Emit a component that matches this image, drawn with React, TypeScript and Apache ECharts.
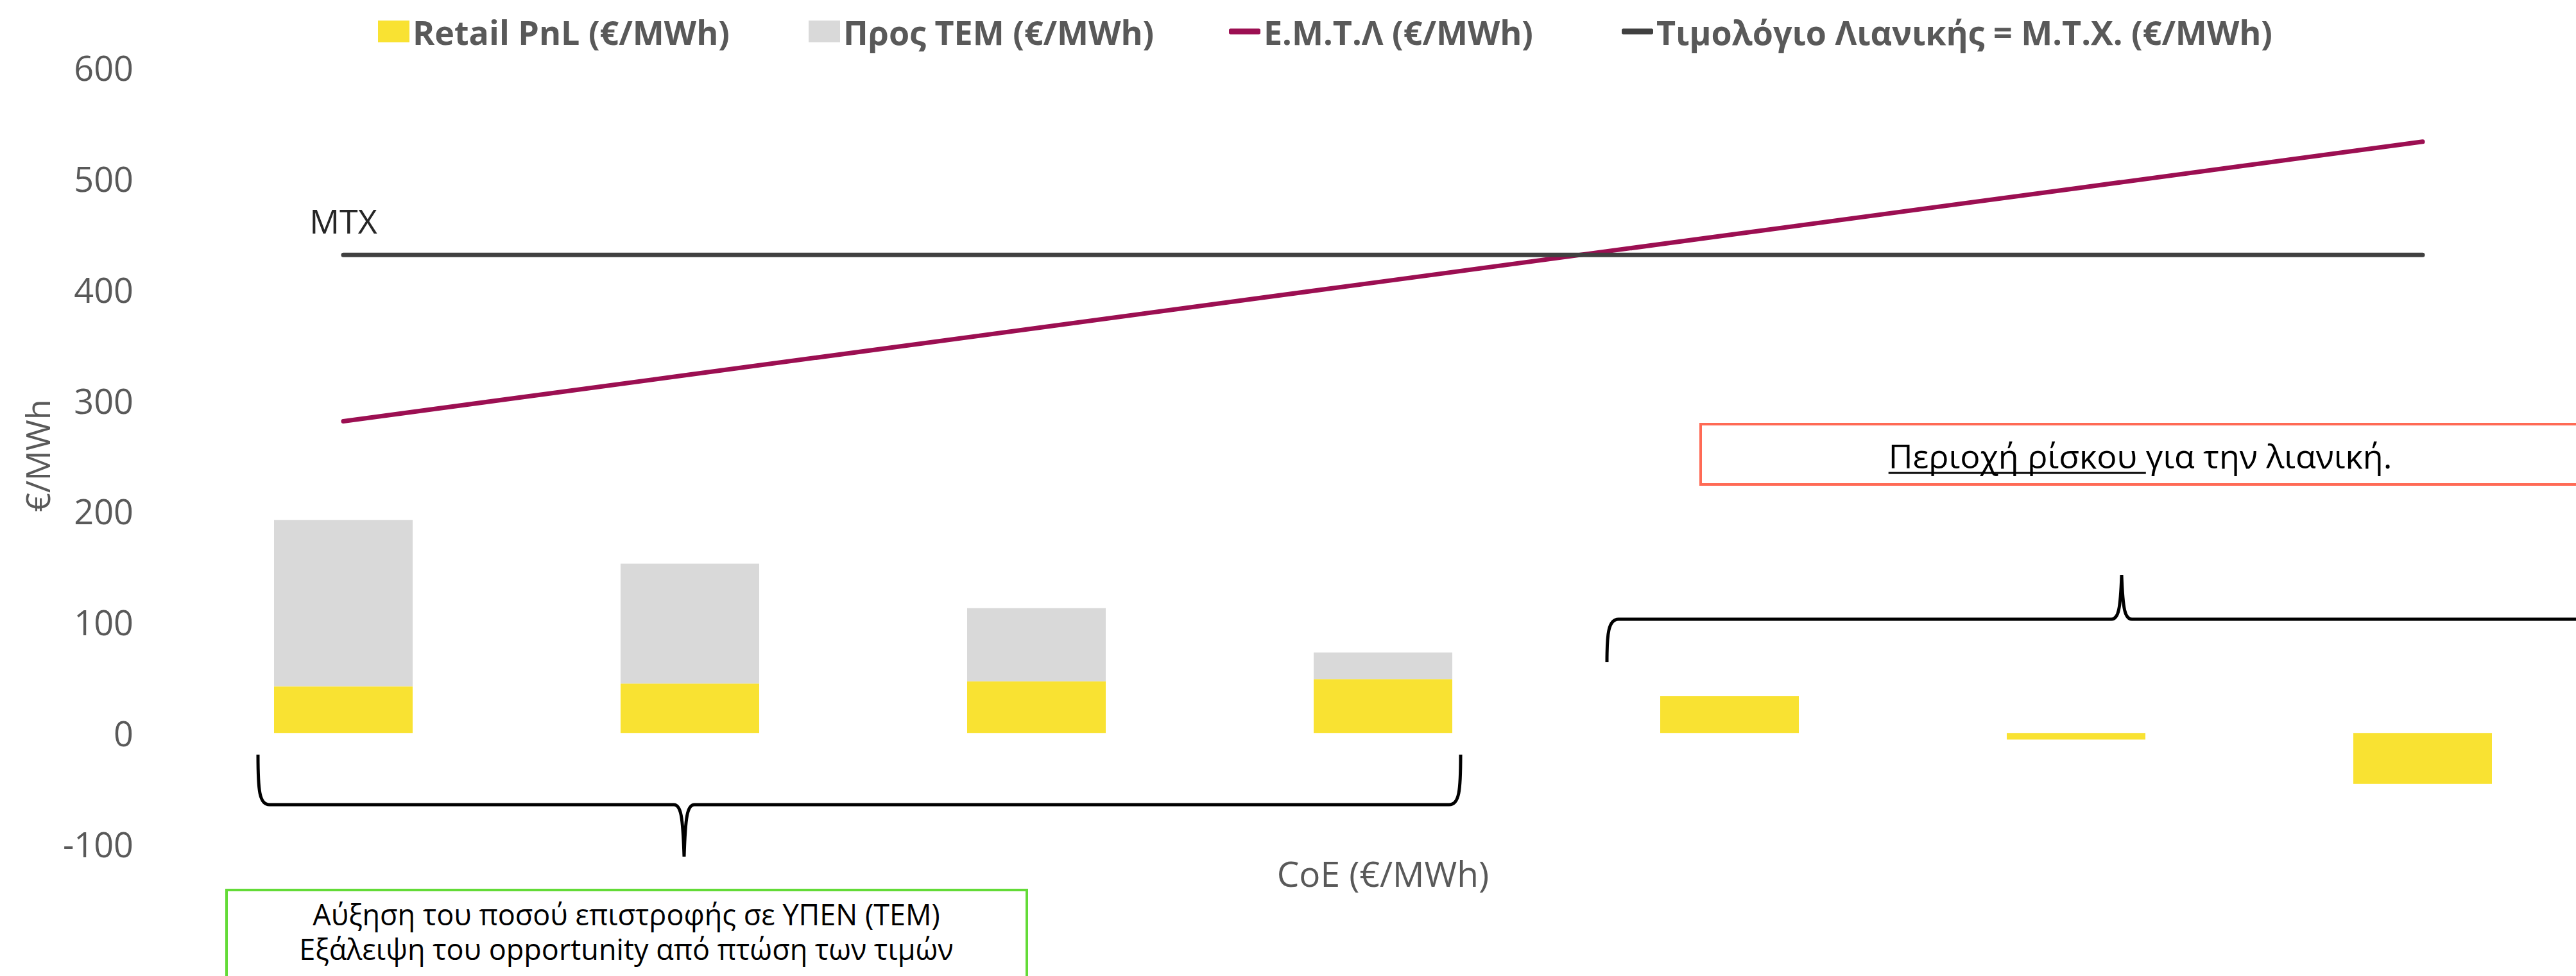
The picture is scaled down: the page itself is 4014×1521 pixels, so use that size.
import React, { useEffect, useRef } from "react";
import * as echarts from "echarts";

const categories = ["1", "2", "3", "4", "5", "6", "7"];
const retailPnl = [42, 44.5, 46.5, 48.5, 33, -6, -46];
const towardsTem = [150, 108, 66, 24, null, null, null];
const emtl = [281, 323, 365, 407, 449, 491, 533];
const mtx = [431, 431, 431, 431, 431, 431, 431];
const yMin = -100;
const yMax = 600;
const yInterval = 100;

const seriesNames = [
  "Retail PnL (€/MWh)",
  "Προς ΤΕΜ (€/MWh)",
  "Ε.Μ.Τ.Λ (€/MWh)",
  "Τιμολόγιο Λιανικής = Μ.Τ.Χ. (€/MWh)",
];

const riskPart1 = "Περιοχή ρίσκου";
const riskPart2 = " για την λιανική.";
const greenText = "Αύξηση του ποσού επιστροφής σε ΥΠΕΝ (ΤΕΜ)\nΕξάλειψη του opportunity από πτώση των τιμών";

const FONT = "'Open Sans', 'DejaVu Sans', sans-serif";

function measure(text: string, size: number): number {
  const c = document.createElement("canvas").getContext("2d");
  if (!c) return text.length * size * 0.5;
  c.font = `${size}px 'Open Sans'`;
  return c.measureText(text).width;
}

let shapesRegistered = false;
function registerShapes() {
  if (shapesRegistered) return;
  shapesRegistered = true;
  const lower =
    "M402,1176 C402,1232 404,1254 420,1254 L1050,1254 C1061,1254 1064,1272 1066,1335 C1068,1272 1071,1254 1082,1254 L2258,1254 C2274,1254 2276,1232 2276,1176";
  const upper =
    "M2504,1032 C2504,988 2506,965 2522,965 L3290,965 C3301,965 3304,950 3306,896 C3308,950 3311,965 3322,965 L4090,965 C4106,965 4108,988 4108,1032";
  echarts.graphic.registerShape("lowerBrace", echarts.graphic.extendPath(lower, {}));
  echarts.graphic.registerShape("upperBrace", echarts.graphic.extendPath(upper, {}));
}

export default function App() {
  const ref = useRef<HTMLDivElement>(null);

  useEffect(() => {
    if (!ref.current) return;
    registerShapes();
    const chart = echarts.init(ref.current, undefined, { renderer: "svg" });

    const riskSize = 52;
    const w1 = measure(riskPart1, riskSize);
    const w1s = measure(riskPart1 + " ", riskSize);
    const wAll = measure(riskPart1 + riskPart2, riskSize);
    const riskX0 = 3335 - wAll / 2;

    const legendBase = {
      top: 18,
      itemWidth: 49,
      itemHeight: 34,
      textStyle: { color: "#595959", fontSize: 52, fontWeight: "bold" as const, fontFamily: FONT },
    };

    const option: any = {
      animation: false,
      textStyle: { fontFamily: FONT },
      legend: [
        { ...legendBase, left: 584, data: [{ name: seriesNames[0], icon: "rect" }] },
        { ...legendBase, left: 1255, data: [{ name: seriesNames[1], icon: "rect" }] },
        { ...legendBase, left: 1910, itemHeight: 9, data: [{ name: seriesNames[2], icon: "roundRect" }] },
        { ...legendBase, left: 2522, itemHeight: 9, data: [{ name: seriesNames[3], icon: "roundRect" }] },
      ],
      grid: { left: 265, top: 105, width: 3780, height: 1210, containLabel: false },
      xAxis: {
        type: "category",
        data: categories,
        axisLine: { show: false, onZero: false },
        axisTick: { show: false },
        axisLabel: { show: false },
        splitLine: { show: false },
        name: "CoE (€/MWh)",
        nameLocation: "middle",
        nameGap: 18,
        nameTextStyle: { color: "#595959", fontSize: 55, fontFamily: FONT },
      },
      yAxis: {
        type: "value",
        min: yMin,
        max: yMax,
        interval: yInterval,
        axisLine: { show: false },
        axisTick: { show: false },
        splitLine: { show: false },
        axisLabel: { color: "#595959", fontSize: 54, margin: 57, fontFamily: FONT },
        name: "€/MWh",
        nameLocation: "middle",
        nameGap: 182,
        nameTextStyle: { color: "#595959", fontSize: 52, fontFamily: FONT },
      },
      series: [
        {
          name: seriesNames[0],
          type: "bar",
          stack: "total",
          data: retailPnl,
          barWidth: 216,
          itemStyle: { color: "#F9E232" },
        },
        {
          name: seriesNames[1],
          type: "bar",
          stack: "total",
          data: towardsTem,
          barWidth: 216,
          itemStyle: { color: "#D9D9D9" },
        },
        {
          name: seriesNames[2],
          type: "line",
          data: emtl,
          symbol: "none",
          lineStyle: { color: "#9C0F52", width: 7, cap: "round" },
          itemStyle: { color: "#9C0F52" },
        },
        {
          name: seriesNames[3],
          type: "line",
          data: mtx.map((v, i) =>
            i === 0
              ? {
                  value: v,
                  label: {
                    show: true,
                    position: "top",
                    distance: 28,
                    formatter: "MTX",
                    color: "#262626",
                    fontSize: 52,
                    fontFamily: FONT,
                  },
                }
              : v
          ),
          symbol: "circle",
          symbolSize: 0,
          showSymbol: true,
          lineStyle: { color: "#404040", width: 7, cap: "round" },
          itemStyle: { color: "#404040" },
        },
      ],
      graphic: [
        {
          type: "rect",
          shape: { x: 2650, y: 661, width: 1372, height: 94 },
          style: { fill: "#FFFFFF", stroke: "#FF6A55", lineWidth: 4 },
          z: 10,
        },
        {
          type: "text",
          x: riskX0,
          y: 709,
          style: {
            text: riskPart1,
            fontSize: riskSize,
            fontFamily: FONT,
            fill: "#000000",
            align: "left",
            verticalAlign: "middle",
            textAlign: "left",
            textVerticalAlign: "middle",
          },
          z: 11,
        },
        {
          type: "text",
          x: riskX0 + w1,
          y: 709,
          style: {
            text: riskPart2,
            fontSize: riskSize,
            fontFamily: FONT,
            fill: "#000000",
            align: "left",
            verticalAlign: "middle",
            textAlign: "left",
            textVerticalAlign: "middle",
          },
          z: 11,
        },
        {
          type: "line",
          shape: { x1: riskX0, y1: 737, x2: riskX0 + w1s, y2: 737 },
          style: { stroke: "#000000", lineWidth: 3 },
          z: 11,
        },
        {
          type: "rect",
          shape: { x: 353, y: 1387, width: 1247, height: 220 },
          style: { fill: "#FFFFFF", stroke: "#63DB37", lineWidth: 4 },
          z: 10,
        },
        {
          type: "text",
          x: 976,
          y: 1451,
          style: {
            text: greenText,
            fontSize: 45,
            lineHeight: 54,
            fontFamily: FONT,
            fill: "#000000",
            align: "center",
            verticalAlign: "middle",
            textAlign: "center",
            textVerticalAlign: "middle",
          },
          z: 11,
        },
        {
          type: "lowerBrace",
          x: 0,
          y: 0,
          style: { fill: "none", stroke: "#000000", lineWidth: 5 },
          z: 10,
        },
        {
          type: "upperBrace",
          x: 0,
          y: 0,
          style: { fill: "none", stroke: "#000000", lineWidth: 5 },
          z: 10,
        },
      ],
    };

    chart.setOption(option);
    return () => chart.dispose();
  }, []);

  return (
    <div
      style={{
        position: "absolute",
        left: 0,
        top: 0,
        width: 4014,
        height: 1521,
        overflow: "hidden",
        background: "#FFFFFF",
      }}
    >
      <div ref={ref} style={{ position: "absolute", left: 0, top: 0, width: 4120, height: 1521 }} />
    </div>
  );
}
